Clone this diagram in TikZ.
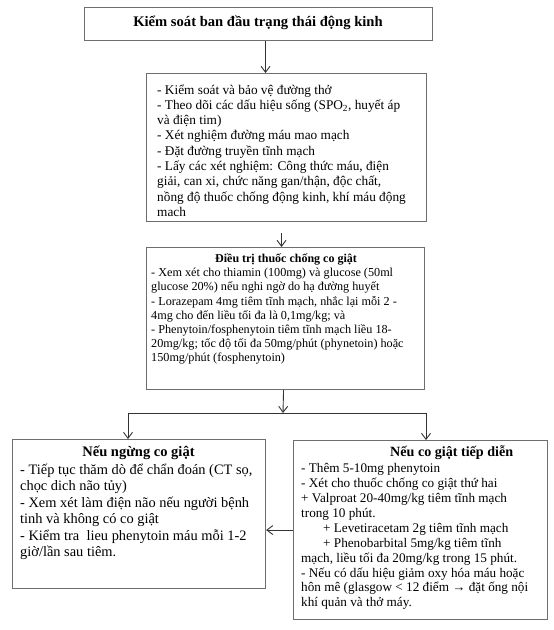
\documentclass[tikz,border=0pt]{standalone}
\usepackage{fontspec}
\setmainfont{Liberation Serif}
\usetikzlibrary{arrows.meta}
\definecolor{boxgray}{HTML}{6E6E6E}
\definecolor{linegray}{HTML}{333333}
\begin{document}
\begin{tikzpicture}[x=1pt,y=-1pt,
  box/.style={draw=boxgray, line width=1.1pt, inner sep=0pt, anchor=north west},
  conn/.style={draw=linegray, line width=0.9pt},
  arr/.style={conn, -{Straight Barb[length=6pt,width=9pt]}},
  body/.style={inner sep=0pt, align=left, anchor=base west},
  ttl/.style={inner sep=0pt, font=\bfseries\fontsize{#1}{#1}\selectfont}]
\useasboundingbox (0,0) rectangle (554,630);
% boxes
\node[box, minimum width=348pt, minimum height=33pt] (b1) at (84,7) {};
\node[box, minimum width=280pt, minimum height=148pt] (b2) at (146,73) {};
\node[box, minimum width=278pt, minimum height=142pt] (b3) at (146,247) {};
\node[box, minimum width=253pt, minimum height=149pt] (b4) at (12,439) {};
\node[box, minimum width=254pt, minimum height=179pt] (b5) at (293,440) {};
% texts (body nodes are placed by the baseline of their last line)
\node[ttl=14.6, anchor=base] (t1) at (258,26.7) {Kiểm soát ban đầu trạng thái động kinh};
\node[body, font=\fontsize{13.3}{15.3}\selectfont] (t2) at (157,216.4) {%
- Kiểm soát và bảo vệ đường thở\\
- Theo dõi các dấu hiệu sống (SPO\textsubscript{2}, huyết áp\\
và điện tim)\\
- Xét nghiệm đường máu mao mạch\\
- Đặt đường truyền tĩnh mạch\\
- Lấy các xét nghiệm: Công thức máu, điện\\
giải, can xi, chức năng gan/thận, độc chất,\\
nồng độ thuốc chống động kinh, khí máu động\\
mach};
\node[ttl=12, anchor=base] (h3) at (286,262.3) {Điều trị thuốc chống co giật};
\node[body, font=\fontsize{12.2}{14.2}\selectfont] (t3) at (151,361.9) {%
- Xem xét cho thiamin (100mg) và glucose (50ml\\
glucose 20\%) nếu nghi ngờ do hạ đường huyết\\
- Lorazepam 4mg tiêm tĩnh mạch, nhắc lại mỗi 2 -\\
4mg cho đến liều tối đa là 0,1mg/kg; và\\
- Phenytoin/fosphenytoin tiêm tĩnh mạch liều 18-\\
20mg/kg; tốc độ tối đa 50mg/phút (phynetoin) hoặc\\
150mg/phút (fosphenytoin)};
\node[ttl=14.5, anchor=base] (h4) at (138.5,456) {Nếu ngừng co giật};
\node[body, font=\fontsize{14.4}{16.5}\selectfont] (t4) at (20,556.8) {%
- Tiếp tục thăm dò để chẩn đoán (CT sọ,\\
chọc dich não tủy)\\
- Xem xét làm điện não nếu người bệnh\\
tinh và không có co giật\\
- Kiểm tra\ \ lieu phenytoin máu mỗi 1-2\\
giờ/lần sau tiêm.};
\node[ttl=14.1, anchor=base west] (h5) at (390,456) {Nếu co giật tiếp diễn};
\node[body, font=\fontsize{13.2}{14.9}\selectfont] (t5) at (301,606.8) {%
- Thêm 5-10mg phenytoin\\
- Xét cho thuốc chống co giật thứ hai\\
+ Valproat 20-40mg/kg tiêm tĩnh mạch\\
trong 10 phút.\\
\hspace*{22pt}+ Levetiracetam 2g tiêm tĩnh mạch\\
\hspace*{22pt}+ Phenobarbital 5mg/kg tiêm tĩnh\\
mạch, liều tối đa 20mg/kg trong 15 phút.\\
- Nếu có dấu hiệu giảm oxy hóa máu hoặc\\
hôn mê (glasgow < 12 điểm → đặt ống nội\\
khí quản và thở máy.};
% connectors
\coordinate (jm) at (283,413);
\coordinate (jl) at (128,413);
\coordinate (jr) at (426,413);
\draw[arr] ([xshift=7pt]b1.south) -- ([xshift=7pt]b1.south |- b2.north);
\draw[arr, shorten <=11pt] ([xshift=-5pt]b2.south) -- ([xshift=-5pt]b2.south |- b3.north);
\draw[arr] ([xshift=-2pt]b3.south) -- (jm);
\draw[conn] (jl) -- (jr);
\draw[arr] (jl) -- (jl |- b4.north);
\draw[arr] (jr) -- (jr |- b5.north);
\draw[arr] (b5.west) -- (b5.west -| b4.east);
\end{tikzpicture}
\end{document}
